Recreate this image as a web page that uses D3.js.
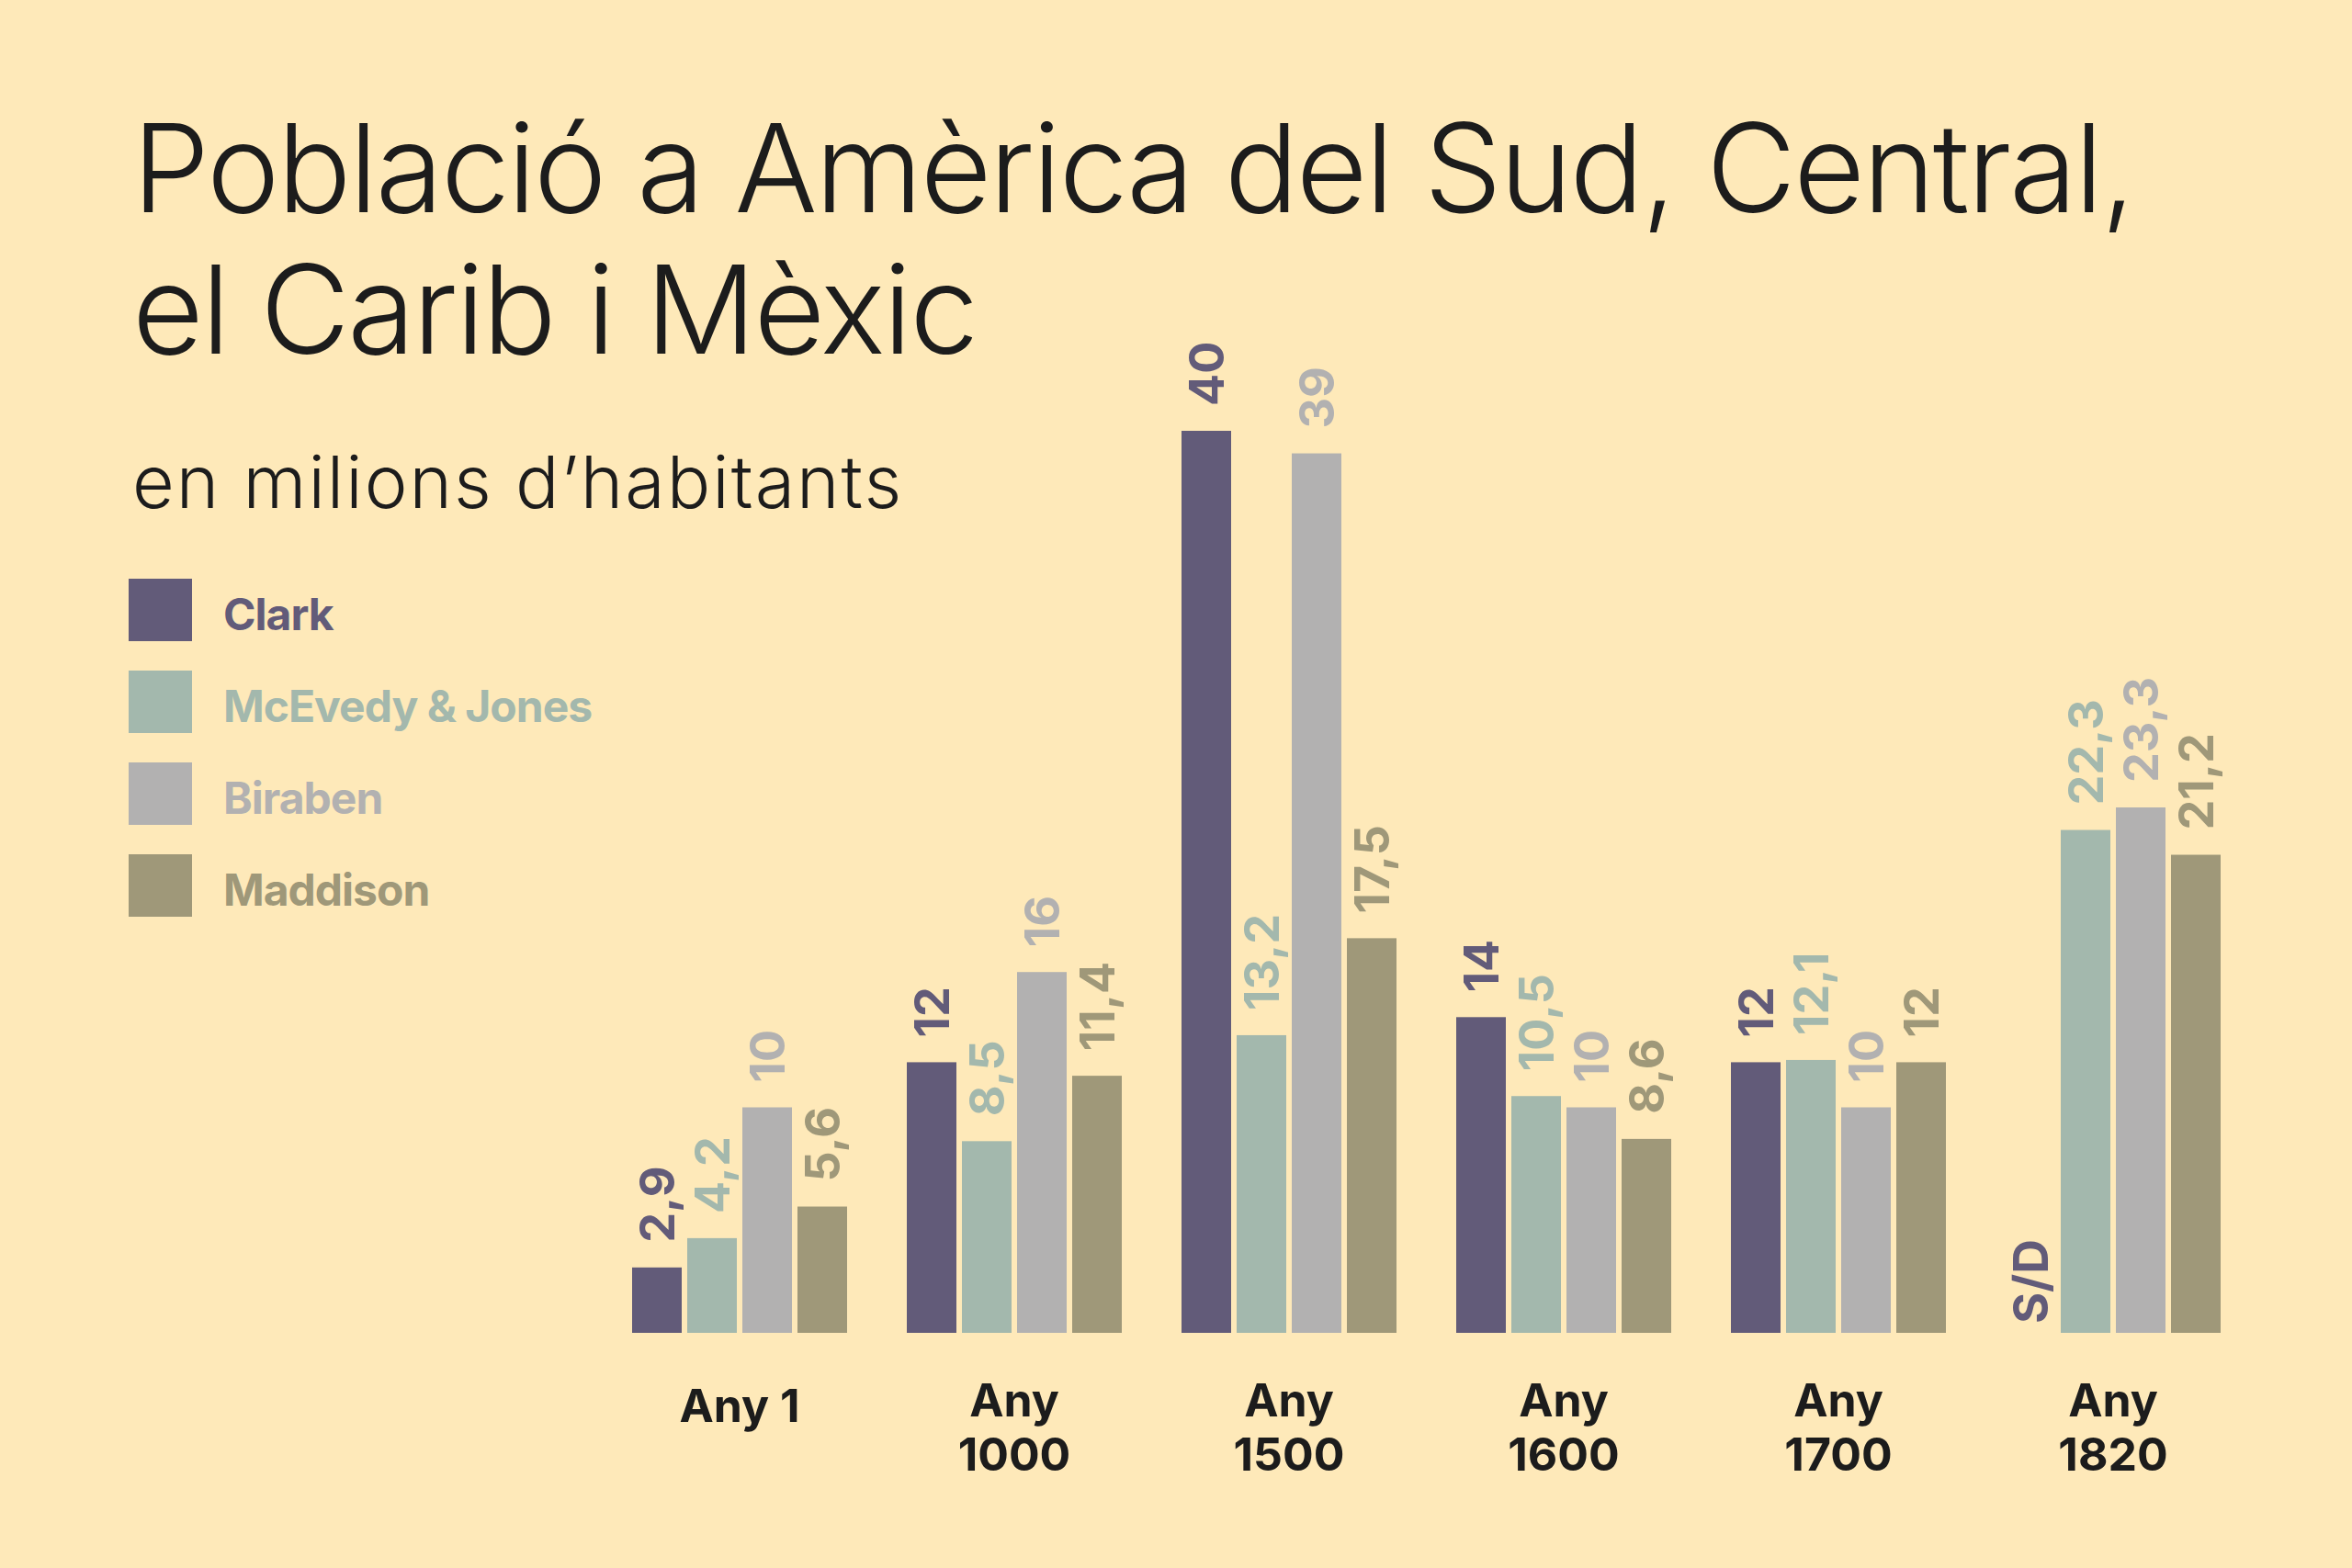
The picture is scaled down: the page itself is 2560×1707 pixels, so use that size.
<!DOCTYPE html>
<html>
<head>
<meta charset="utf-8">
<script src="https://cdn.jsdelivr.net/npm/d3@7"></script>
<style>
  html, body { margin: 0; padding: 0; background: #fee9b9; }
  svg { display: block; }
</style>
</head>
<body>
<script>
// ---- data ----
const categories = ["Any 1", "Any 1000", "Any 1500", "Any 1600", "Any 1700", "Any 1820"];
const categoryLines = [["Any 1"], ["Any", "1000"], ["Any", "1500"], ["Any", "1600"], ["Any", "1700"], ["Any", "1820"]];
const seriesNames = ["Clark", "McEvedy & Jones", "Biraben", "Maddison"];
const clark    = [2.9, 12, 40, 14, 12, null];
const mcevedy  = [4.2, 8.5, 13.2, 10.5, 12.1, 22.3];
const biraben  = [10, 16, 39, 10, 10, 23.3];
const maddison = [5.6, 11.4, 17.5, 8.6, 12, 21.2];
const seriesValues = [clark, mcevedy, biraben, maddison];
const missingLabel = "S/D";
const titleLines = ["Població a Amèrica del Sud, Central,", "el Carib i Mèxic"];
const subtitle = "en milions d\u2019habitants";

// ---- style ----
const W = 2560, H = 1707;
const colors = ["#625b79", "#a3b8ad", "#b2b1b1", "#9f9879"];
const bg = "#fee9b9";
const ink = "#1c1c1c";
const fontFamily = "Inter, 'Noto Sans', sans-serif";
const fmt = v => String(v).replace(".", ",");

const svg = d3.select("body").append("svg")
  .attr("width", W).attr("height", H)
  .style("font-family", fontFamily);

svg.append("rect").attr("width", W).attr("height", H).attr("fill", bg);

// ---- title ----
const title = svg.append("g");
titleLines.forEach((t, i) => {
  title.append("text")
    .attr("x", 144).attr("y", 231 + i * 154)
    .attr("font-size", 134).attr("font-weight", 300)
    .attr("letter-spacing", -2.5)
    .attr("fill", ink)
    .text(t);
});
svg.append("text")
  .attr("x", 144).attr("y", 553)
  .attr("font-size", 79).attr("font-weight", 300)
  .attr("letter-spacing", 2)
  .attr("fill", ink)
  .text(subtitle);

// ---- legend ----
const legend = svg.append("g");
seriesNames.forEach((name, i) => {
  const g = legend.append("g").attr("transform", `translate(140,${630 + i * 100})`);
  g.append("rect").attr("width", 69).attr("height", 68).attr("fill", colors[i]);
  g.append("text").attr("x", 103).attr("y", 56)
    .attr("font-size", 48).attr("font-weight", 700)
    .attr("letter-spacing", -1)
    .attr("fill", colors[i]).text(name);
});

// ---- scales ----
const x0 = d3.scaleBand().domain(categories).range([688, 2417]).paddingInner(0.2174).paddingOuter(0);
const x1 = d3.scaleBand().domain(seriesNames).range([0, x0.bandwidth()]).paddingInner(0.1).paddingOuter(0);
const y = d3.scaleLinear().domain([0, 40]).range([1451, 469]);

const rows = [];
categories.forEach((c, ci) => {
  seriesNames.forEach((s, si) => {
    rows.push({ cat: c, series: s, si, value: seriesValues[si][ci] });
  });
});

const plot = svg.append("g");
plot.selectAll("rect.bar")
  .data(rows.filter(d => d.value != null))
  .join("rect")
  .attr("class", "bar")
  .attr("x", d => x0(d.cat) + x1(d.series))
  .attr("y", d => y(d.value))
  .attr("width", x1.bandwidth())
  .attr("height", d => y(0) - y(d.value))
  .attr("fill", d => colors[d.si]);

plot.selectAll("text.val")
  .data(rows)
  .join("text")
  .attr("class", "val")
  .attr("transform", d => {
    const cx = x0(d.cat) + x1(d.series) + x1.bandwidth() / 2;
    const yy = d.value == null ? y(0) - 10 : y(d.value) - 27;
    return `translate(${cx},${yy}) rotate(-90)`;
  })
  .attr("dy", "0.36em")
  .attr("text-anchor", "start")
  .attr("font-size", 52).attr("font-weight", 700)
  .attr("fill", d => colors[d.si])
  .text(d => d.value == null ? missingLabel : fmt(d.value));

// ---- category labels ----
const cat = svg.append("g");
categories.forEach((c, ci) => {
  const lines = categoryLines[ci];
  const cx = x0(c) + x0.bandwidth() / 2;
  const t = cat.append("text")
    .attr("text-anchor", "middle")
    .attr("font-size", 50).attr("font-weight", 700)
    .attr("fill", ink);
  if (lines.length === 1) {
    t.append("tspan").attr("x", cx).attr("y", 1548).text(lines[0]);
  } else {
    lines.forEach((l, li) => t.append("tspan").attr("x", cx).attr("y", 1542 + li * 59).text(l));
  }
});
</script>
</body>
</html>
